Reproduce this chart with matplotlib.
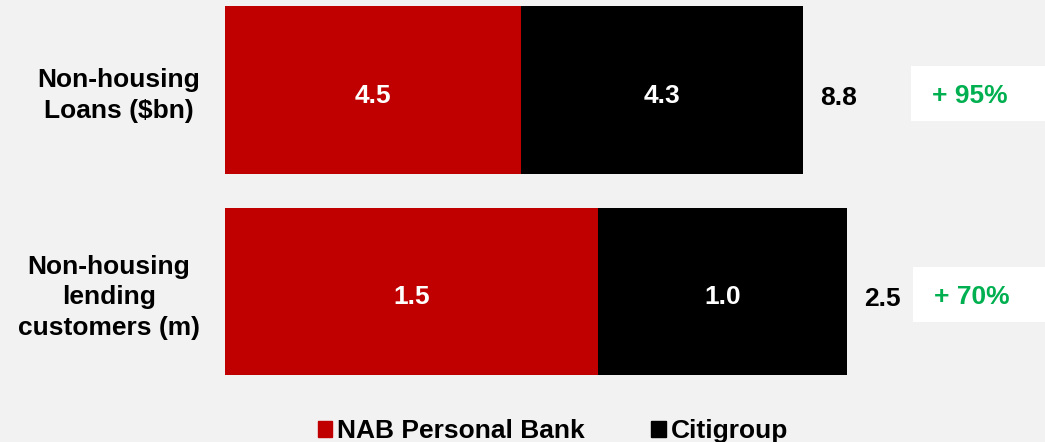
from matplotlib import pyplot as plt
from matplotlib.patches import Rectangle

# Data
categories = ['Non-housing\nLoans ($bn)', 'Non-housing\nlending\ncustomers (m)']
nab_values = [4.5, 1.5]
citi_values = [4.3, 1.0]
totals = [8.8, 2.5]
growth_labels = ['+ 95%', '+ 70%']
series_names = ['NAB Personal Bank', 'Citigroup']

RED = '#c00000'
BLACK = '#000000'
GREEN = '#00b050'
BG = '#f2f2f2'
FS = 19
W, H = 1045, 442

plt.rcParams['font.family'] = ['Liberation Sans', 'DejaVu Sans']
plt.rcParams['font.weight'] = 'bold'

fig = plt.figure(figsize=(W / 100, H / 100), dpi=100, facecolor=BG)

# pixel layout of each row: (bar top, bar bottom, pixels used for the total, box left, box top, box bottom)
rows = [(6, 174, 578, 911, 66, 121), (208, 375, 622, 913, 267, 322)]

for i, (top, bot, span, bx, btop, bbot) in enumerate(rows):
  ax = fig.add_axes([225 / W, 1 - bot / H, (W - 225) / W, (bot - top) / H])
  ax.set_facecolor('none')
  for s in ax.spines.values():
    s.set_visible(False)
  ax.set_xlim(0, totals[i] * (W - 225) / span)
  ax.set_ylim(-0.5, 0.5)

  ax.barh([0], [nab_values[i]], height=1.0, color=RED)
  ax.barh([0], [citi_values[i]], left=[nab_values[i]], height=1.0, color=BLACK)

  ax.text(nab_values[i] / 2, -0.02, f"{nab_values[i]:.1f}", color='white', fontsize=FS,
          ha='center', va='center_baseline', fontweight='bold')
  ax.text(nab_values[i] + citi_values[i] / 2, -0.02, f"{citi_values[i]:.1f}", color='white',
          fontsize=FS, ha='center', va='center_baseline', fontweight='bold')
  ax.annotate(f"{totals[i]:.1f}", xy=(nab_values[i] + citi_values[i], -0.03),
              xytext=(12, 0), textcoords='offset points', fontsize=FS,
              ha='left', va='center_baseline', fontweight='bold', color='black')

  ax.set_xticks([])
  ax.set_yticks([0])
  ax.set_yticklabels([categories[i]], fontsize=FS, fontweight='bold',
                     multialignment='center', linespacing=1.35)
  ax.tick_params(axis='y', length=0, pad=18)

  # growth box
  fig.patches.append(Rectangle((bx / W, 1 - bbot / H), (W - bx) / W, (bbot - btop) / H,
                               transform=fig.transFigure, facecolor='white',
                               edgecolor='none', zorder=0))
  fig.text((bx + 21) / W, 1 - (btop + bbot) / 2 / H, growth_labels[i], color=GREEN,
           fontsize=FS, fontweight='bold', ha='left', va='center_baseline')

handles = [Rectangle((0, 0), 1, 1, color=RED), Rectangle((0, 0), 1, 1, color=BLACK)]
fig.legend(handles, series_names, loc='center', bbox_to_anchor=(553 / W, 1 - 431 / H),
           ncol=2, frameon=False, prop={'size': FS, 'weight': 'bold'},
           handlelength=0.55, handleheight=0.55, handletextpad=0.2, columnspacing=2.5,
           borderpad=0)

fig.savefig('out.png', dpi=100, facecolor=BG)
